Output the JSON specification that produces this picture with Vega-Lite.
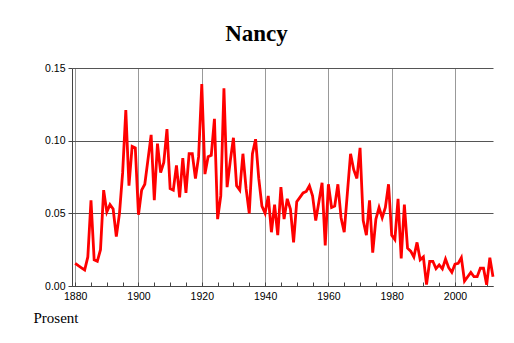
{
  "$schema": "https://vega.github.io/schema/vega-lite/v6.json",
  "width": 421,
  "height": 218,
  "autosize": {"type": "none"},
  "padding": {"left": 72, "top": 68, "right": 21, "bottom": 57},
  "background": "white",
  "title": {
    "text": "Nancy",
    "font": "Liberation Serif",
    "fontSize": 23,
    "fontWeight": "bold",
    "color": "black",
    "anchor": "middle",
    "frame": "group",
    "dx": -26,
    "offset": 17
  },
  "config": {"view": {"stroke": null}},
  "data": {
    "values": [
      {"year": 1880, "v": 0.0156}, {"year": 1881, "v": 0.014}, {"year": 1882, "v": 0.0125}, {"year": 1883, "v": 0.011},
      {"year": 1884, "v": 0.020}, {"year": 1885, "v": 0.059}, {"year": 1886, "v": 0.018}, {"year": 1887, "v": 0.017},
      {"year": 1888, "v": 0.025}, {"year": 1889, "v": 0.066}, {"year": 1890, "v": 0.051}, {"year": 1891, "v": 0.056},
      {"year": 1892, "v": 0.053}, {"year": 1893, "v": 0.034}, {"year": 1894, "v": 0.050}, {"year": 1895, "v": 0.078},
      {"year": 1896, "v": 0.121}, {"year": 1897, "v": 0.069}, {"year": 1898, "v": 0.096}, {"year": 1899, "v": 0.095},
      {"year": 1900, "v": 0.049}, {"year": 1901, "v": 0.066}, {"year": 1902, "v": 0.070}, {"year": 1903, "v": 0.087},
      {"year": 1904, "v": 0.104}, {"year": 1905, "v": 0.059}, {"year": 1906, "v": 0.098}, {"year": 1907, "v": 0.078},
      {"year": 1908, "v": 0.085}, {"year": 1909, "v": 0.108}, {"year": 1910, "v": 0.067}, {"year": 1911, "v": 0.066},
      {"year": 1912, "v": 0.083}, {"year": 1913, "v": 0.061}, {"year": 1914, "v": 0.088}, {"year": 1915, "v": 0.064},
      {"year": 1916, "v": 0.091}, {"year": 1917, "v": 0.091}, {"year": 1918, "v": 0.074}, {"year": 1919, "v": 0.089},
      {"year": 1920, "v": 0.139}, {"year": 1921, "v": 0.077}, {"year": 1922, "v": 0.089}, {"year": 1923, "v": 0.090},
      {"year": 1924, "v": 0.115}, {"year": 1925, "v": 0.046}, {"year": 1926, "v": 0.062}, {"year": 1927, "v": 0.136},
      {"year": 1928, "v": 0.068}, {"year": 1929, "v": 0.086}, {"year": 1930, "v": 0.102}, {"year": 1931, "v": 0.069},
      {"year": 1932, "v": 0.066}, {"year": 1933, "v": 0.091}, {"year": 1934, "v": 0.067}, {"year": 1935, "v": 0.050},
      {"year": 1936, "v": 0.091}, {"year": 1937, "v": 0.101}, {"year": 1938, "v": 0.074}, {"year": 1939, "v": 0.055},
      {"year": 1940, "v": 0.050}, {"year": 1941, "v": 0.062}, {"year": 1942, "v": 0.037}, {"year": 1943, "v": 0.056},
      {"year": 1944, "v": 0.035}, {"year": 1945, "v": 0.068}, {"year": 1946, "v": 0.046}, {"year": 1947, "v": 0.060},
      {"year": 1948, "v": 0.053}, {"year": 1949, "v": 0.030}, {"year": 1950, "v": 0.058}, {"year": 1951, "v": 0.061},
      {"year": 1952, "v": 0.064}, {"year": 1953, "v": 0.065}, {"year": 1954, "v": 0.069}, {"year": 1955, "v": 0.062},
      {"year": 1956, "v": 0.045}, {"year": 1957, "v": 0.058}, {"year": 1958, "v": 0.071}, {"year": 1959, "v": 0.028},
      {"year": 1960, "v": 0.070}, {"year": 1961, "v": 0.054}, {"year": 1962, "v": 0.055}, {"year": 1963, "v": 0.070},
      {"year": 1964, "v": 0.047}, {"year": 1965, "v": 0.037}, {"year": 1966, "v": 0.064}, {"year": 1967, "v": 0.091},
      {"year": 1968, "v": 0.080}, {"year": 1969, "v": 0.074}, {"year": 1970, "v": 0.095}, {"year": 1971, "v": 0.045},
      {"year": 1972, "v": 0.035}, {"year": 1973, "v": 0.059}, {"year": 1974, "v": 0.023}, {"year": 1975, "v": 0.046},
      {"year": 1976, "v": 0.054}, {"year": 1977, "v": 0.047}, {"year": 1978, "v": 0.054}, {"year": 1979, "v": 0.070},
      {"year": 1980, "v": 0.035}, {"year": 1981, "v": 0.032}, {"year": 1982, "v": 0.060}, {"year": 1983, "v": 0.019},
      {"year": 1984, "v": 0.056}, {"year": 1985, "v": 0.026}, {"year": 1986, "v": 0.024}, {"year": 1987, "v": 0.020},
      {"year": 1988, "v": 0.030}, {"year": 1989, "v": 0.018}, {"year": 1990, "v": 0.020}, {"year": 1991, "v": 0.001},
      {"year": 1992, "v": 0.017}, {"year": 1993, "v": 0.017}, {"year": 1994, "v": 0.012}, {"year": 1995, "v": 0.0145},
      {"year": 1996, "v": 0.0118}, {"year": 1997, "v": 0.0186}, {"year": 1998, "v": 0.0126}, {"year": 1999, "v": 0.0094},
      {"year": 2000, "v": 0.015}, {"year": 2001, "v": 0.0156}, {"year": 2002, "v": 0.0195}, {"year": 2003, "v": 0.0034},
      {"year": 2004, "v": 0.0064}, {"year": 2005, "v": 0.0094}, {"year": 2006, "v": 0.0064}, {"year": 2007, "v": 0.0064},
      {"year": 2008, "v": 0.0122}, {"year": 2009, "v": 0.0122}, {"year": 2010, "v": 0.0008}, {"year": 2011, "v": 0.0195},
      {"year": 2012, "v": 0.0064}
    ]
  },
  "mark": {"type": "line", "color": "#ff0000", "strokeWidth": 2.8, "strokeJoin": "miter", "strokeMiterLimit": 4},
  "encoding": {
    "x": {
      "field": "year",
      "type": "quantitative",
      "scale": {"domain": [1879, 2012], "nice": false, "zero": false},
      "axis": {
        "values": [1880, 1885, 1890, 1895, 1900, 1905, 1910, 1915, 1920, 1925, 1930, 1935, 1940, 1945, 1950, 1955, 1960, 1965, 1970, 1975, 1980, 1985, 1990, 1995, 2000, 2005, 2010],
        "labelExpr": "datum.value % 20 === 0 ? datum.value : ''",
        "labelFont": "Liberation Sans",
        "labelFontSize": 10.5,
        "labelColor": "black",
        "labelPadding": 9,
        "labelFlush": false,
        "tickSize": -4,
        "tickColor": "#444",
        "domainColor": "#444",
        "grid": true,
        "gridColor": "#999",
        "gridOpacity": {"condition": {"test": "datum.value % 20 === 0", "value": 1}, "value": 0},
        "title": "Prosent",
        "titleFont": "Liberation Serif",
        "titleFontSize": 15,
        "titleFontWeight": "normal",
        "titleColor": "black",
        "titleAnchor": "start",
        "titleAlign": "left",
        "titleX": -39,
        "titleY": 24
      }
    },
    "y": {
      "field": "v",
      "type": "quantitative",
      "scale": {"domain": [0, 0.15], "nice": false},
      "axis": {
        "values": [0, 0.05, 0.1, 0.15],
        "format": ".2f",
        "labelFont": "Liberation Sans",
        "labelFontSize": 10.5,
        "labelColor": "black",
        "labelPadding": 3,
        "tickSize": 4,
        "tickColor": "#444",
        "domainColor": "#444",
        "grid": true,
        "gridColor": "#555",
        "title": null
      }
    }
  }
}
